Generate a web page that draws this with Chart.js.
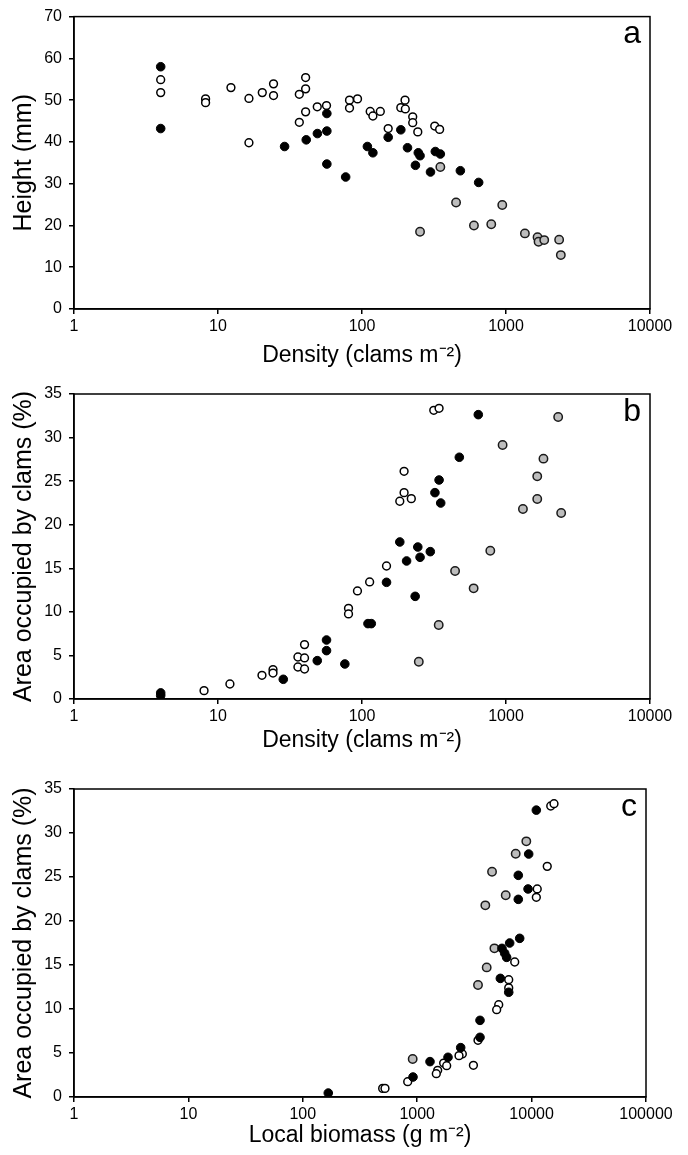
<!DOCTYPE html>
<html><head><meta charset="utf-8">
<script src="https://cdn.jsdelivr.net/npm/chart.js@4/dist/chart.umd.min.js"></script>
<style>
html,body{margin:0;padding:0;background:#fff;}
#wrap{position:relative;width:688px;height:1155px;overflow:hidden;}
canvas{position:absolute;left:0;}
</style></head><body>
<div id="wrap">
<canvas id="ca" width="688" height="375" style="top:0px"></canvas>
<canvas id="cb" width="688" height="385" style="top:375px"></canvas>
<canvas id="cc" width="688" height="395" style="top:760px"></canvas>
</div>
<script>
// ---- Panel a: Height vs density ----
const aFilledX = [4,4,29,41,49,57,57,57,77,109,119,152,186,207,246,253,235,299,323,350,482,646];
const aFilledY = [58,43.2,38.9,40.5,42.0,46.8,42.6,34.7,31.6,38.9,37.4,41.1,42.9,38.6,37.4,36.7,34.4,32.8,37.7,37.1,33.1,30.3];
const aOpenX = [4,4,8.2,8.2,12.3,16.4,16.4,20.3,24.3,24.3,36.7,36.7,40.6,40.6,40.6,48.9,56.7,81.9,81.9,93.1,114,119,134,152,186,199,200,225,225,244,320,346];
const aOpenY = [54.9,51.8,50.3,49.4,53.0,50.4,39.8,51.8,53.9,51.1,51.4,44.7,55.4,52.7,47.2,48.4,48.7,50.0,48.1,50.3,47.3,46.2,47.3,43.2,48.2,50.0,47.9,46.0,44.6,42.4,43.8,43.0];
const aGrayX = [350,450,942,253,599,790,1353,1656,1683,1843,2339,2403];
const aGrayY = [34.0,25.5,24.9,18.5,20.0,20.3,18.1,17.2,16.1,16.5,16.6,12.9];

// ---- Panel b: Area occupied vs density ----
const bFilledX = [4,4,28.4,48.9,56.7,56.7,76,110,116,148,234,183,204,244,253,298,343,321,352,642,474];
const bFilledY = [0.7,0.4,2.26,4.4,6.77,5.55,4.02,8.65,8.65,13.39,11.78,18.02,15.84,17.44,16.26,16.91,25.13,23.68,22.49,32.63,27.74];
const bOpenX = [8,12.1,20.2,24.1,24.1,35.9,35.9,39.9,39.9,39.9,80.6,80.6,93,113,148,196,196,183,220,315,343];
const bOpenY = [0.96,1.72,2.72,3.37,2.98,4.82,3.67,6.24,4.71,3.44,10.4,9.76,12.4,13.43,15.26,26.13,23.68,22.69,22.99,33.13,33.36];
const bGrayX = [2303,947,1820,1648,1648,1311,2416,778,443,596,341,248];
const bGrayY = [32.36,29.15,27.58,25.55,22.95,21.81,21.35,17.02,14.69,12.7,8.49,4.28];

// ---- Panel c: Area occupied vs local biomass ----
const cFilledX = [167,11000,9430,7650,9310,7650,7870,6430,5510,5820,6050,5330,6310,3540,3540,2400,1294,1859,919];
const cFilledY = [0.45,32.6,27.61,25.19,23.64,22.46,18.03,17.5,16.89,16.33,15.87,13.48,11.9,8.71,6.78,5.61,4.02,4.51,2.27];
const cOpenX = [14700,15700,13700,11200,11000,7120,6310,6310,5160,4950,3400,2480,2320,1703,1810,1510,1469,3100,826,499,523];
const cOpenY = [33.07,33.33,26.21,23.64,22.69,15.34,13.33,12.4,10.49,9.92,6.44,4.89,4.7,3.86,3.56,3.03,2.65,3.6,1.74,0.98,0.98];
const cGrayX = [8990,7260,4510,5940,3940,4730,4050,3400,913];
const cGrayY = [29.05,27.65,25.6,22.92,21.78,16.89,14.73,12.73,4.32];

// ---- Tick values and labels ----
const densityTicks = [1,10,100,1000,10000];
const biomassTicks = [1,10,100,1000,10000,100000];
const heightTitle = 'Height (mm)';
const areaTitle = 'Area occupied by clams (%)';
const densityTitle = 'Density (clams m\u207B\u00B2)';
const biomassTitle = 'Local biomass (g m\u207B\u00B2)';

const FONT = "'Liberation Sans', Arial, Helvetica, sans-serif";

function pts(xs, ys){ return xs.map((x,i)=>({x:x, y:ys[i]})); }

const boxPlugin = {
  id: 'box',
  beforeDatasetsDraw(chart, args, opts){
    const {ctx, chartArea:{left,top,right,bottom}} = chart;
    ctx.save();
    ctx.strokeStyle = '#000'; ctx.lineWidth = 1.5;
    ctx.strokeRect(left, top, right-left, bottom-top);
    ctx.font = opts.size + 'px ' + FONT;
    ctx.fillStyle = '#000'; ctx.textAlign = 'right'; ctx.textBaseline = 'top';
    ctx.fillText(opts.letter, right - opts.dx, top + opts.dy);
    ctx.restore();
  }
};

function makeChart(id, o){
  const H = o.height;
  return new Chart(document.getElementById(id), {
    type: 'scatter',
    data: {datasets: [
      {label:'filled', data: pts(o.fx,o.fy), backgroundColor:'#000', borderColor:'#000', pointRadius:4.3, borderWidth:1},
      {label:'gray', data: pts(o.gx,o.gy), backgroundColor:'#bdbdbd', borderColor:'#1a1a1a', pointRadius:4.2, borderWidth:1.5},
      {label:'open', data: pts(o.ox,o.oy), backgroundColor:'#fff', borderColor:'#000', pointRadius:3.9, borderWidth:1.5}
    ]},
    options: {
      responsive:false, animation:false, devicePixelRatio:1,
      layout:{padding:{top:o.top, right:688-o.right, left:0, bottom:0}},
      plugins:{legend:{display:false}, tooltip:{enabled:false}, box:{letter:o.letter, size:32, dx:9, dy:2}},
      scales:{
        x:{
          type:'logarithmic', min:1, max:o.xmax,
          afterBuildTicks: s => { s.ticks = o.xticks.map(v => ({value:v})); },
          afterFit: s => { s.height = H - o.bottom; },
          ticks:{callback: v => String(v), font:{family:FONT, size:16}, color:'#000', padding:3, maxRotation:0, autoSkip:false},
          grid:{display:true, drawOnChartArea:false, drawTicks:true, tickLength:5, color:'#000', lineWidth:1.5},
          border:{display:true, color:'#000', width:1.5},
          title:{display:true, text:o.xtitle, font:{family:FONT, size:23}, color:'#000', padding:{top:0, bottom:6}}
        },
        y:{
          min:0, max:o.ymax,
          afterFit: s => { s.width = o.left; },
          ticks:{stepSize:o.ystep, font:{family:FONT, size:16}, color:'#000', padding:7},
          grid:{display:true, drawOnChartArea:false, drawTicks:true, tickLength:5, color:'#000', lineWidth:1.5},
          border:{display:true, color:'#000', width:1.5},
          title:{display:true, text:o.ytitle, font:{family:FONT, size:25}, color:'#000', padding:{top:9, bottom:0}}
        }
      }
    },
    plugins:[boxPlugin]
  });
}

makeChart('ca', {height:375, top:14, bottom:309, left:74, right:650, xmax:10000, xticks:densityTicks,
  ymax:70, ystep:10, xtitle:densityTitle, ytitle:heightTitle, letter:'a',
  fx:aFilledX, fy:aFilledY, ox:aOpenX, oy:aOpenY, gx:aGrayX, gy:aGrayY});
makeChart('cb', {height:385, top:19, bottom:324, left:74, right:650, xmax:10000, xticks:densityTicks,
  ymax:35, ystep:5, xtitle:densityTitle, ytitle:areaTitle, letter:'b',
  fx:bFilledX, fy:bFilledY, ox:bOpenX, oy:bOpenY, gx:bGrayX, gy:bGrayY});
makeChart('cc', {height:395, top:29, bottom:337, left:74, right:646, xmax:100000, xticks:biomassTicks,
  ymax:35, ystep:5, xtitle:biomassTitle, ytitle:areaTitle, letter:'c',
  fx:cFilledX, fy:cFilledY, ox:cOpenX, oy:cOpenY, gx:cGrayX, gy:cGrayY});
</script>
</body></html>
